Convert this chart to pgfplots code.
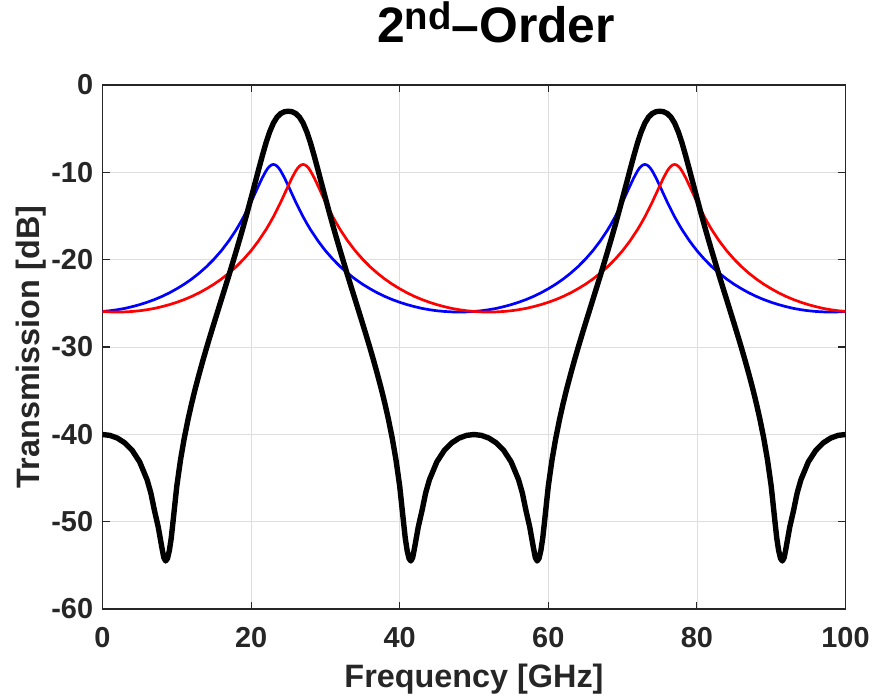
\documentclass[border=0pt]{standalone}
\usepackage{fontspec}
\setmainfont{Liberation Sans}
\usepackage{pgfplots}
\usepackage{pgfplotstable}
\pgfplotsset{compat=1.18}

\definecolor{axisgray}{RGB}{38,38,38}
\definecolor{gridgray}{RGB}{222,222,222}

% Single-resonance responses (peaks at 23/73 GHz and 27/77 GHz)
\pgfplotstableread{
f dB
0 -25.93
1 -25.85
2 -25.73
3 -25.58
4 -25.38
5 -25.15
6 -24.88
7 -24.57
8 -24.21
9 -23.80
10 -23.33
11 -22.81
12 -22.22
13 -21.55
14 -20.80
15 -19.94
16 -18.97
17 -17.85
18 -16.57
18.5 -15.85
19 -15.09
19.5 -14.26
20 -13.39
20.5 -12.47
21 -11.54
21.5 -10.64
22 -9.85
22.25 -9.54
22.5 -9.30
22.75 -9.15
23 -9.10
23.25 -9.15
23.5 -9.30
23.75 -9.54
24 -9.85
24.5 -10.64
25 -11.54
25.5 -12.47
26 -13.39
26.5 -14.26
27 -15.09
27.5 -15.85
28 -16.57
29 -17.85
30 -18.97
31 -19.94
32 -20.80
33 -21.55
34 -22.22
35 -22.81
36 -23.33
37 -23.80
38 -24.21
39 -24.57
40 -24.88
41 -25.15
42 -25.38
43 -25.58
44 -25.73
45 -25.85
46 -25.93
47 -25.98
48 -26.00
49 -25.98
50 -25.93
51 -25.85
52 -25.73
53 -25.58
54 -25.38
55 -25.15
56 -24.88
57 -24.57
58 -24.21
59 -23.80
60 -23.33
61 -22.81
62 -22.22
63 -21.55
64 -20.80
65 -19.94
66 -18.97
67 -17.85
68 -16.57
68.5 -15.85
69 -15.09
69.5 -14.26
70 -13.39
70.5 -12.47
71 -11.54
71.5 -10.64
72 -9.85
72.25 -9.54
72.5 -9.30
72.75 -9.15
73 -9.10
73.25 -9.15
73.5 -9.30
73.75 -9.54
74 -9.85
74.5 -10.64
75 -11.54
75.5 -12.47
76 -13.39
76.5 -14.26
77 -15.09
77.5 -15.85
78 -16.57
79 -17.85
80 -18.97
81 -19.94
82 -20.80
83 -21.55
84 -22.22
85 -22.81
86 -23.33
87 -23.80
88 -24.21
89 -24.57
90 -24.88
91 -25.15
92 -25.38
93 -25.58
94 -25.73
95 -25.85
96 -25.93
97 -25.98
98 -26.00
99 -25.98
100 -25.93
}\blueData

\pgfplotstableread{
f dB
0 -25.93
1 -25.98
2 -26.00
3 -25.98
4 -25.93
5 -25.85
6 -25.73
7 -25.58
8 -25.38
9 -25.15
10 -24.88
11 -24.57
12 -24.21
13 -23.80
14 -23.33
15 -22.81
16 -22.22
17 -21.55
18 -20.80
19 -19.94
20 -18.97
21 -17.85
22 -16.57
22.5 -15.85
23 -15.09
23.5 -14.26
24 -13.39
24.5 -12.47
25 -11.54
25.5 -10.64
26 -9.85
26.25 -9.54
26.5 -9.30
26.75 -9.15
27 -9.10
27.25 -9.15
27.5 -9.30
27.75 -9.54
28 -9.85
28.5 -10.64
29 -11.54
29.5 -12.47
30 -13.39
30.5 -14.26
31 -15.09
31.5 -15.85
32 -16.57
33 -17.85
34 -18.97
35 -19.94
36 -20.80
37 -21.55
38 -22.22
39 -22.81
40 -23.33
41 -23.80
42 -24.21
43 -24.57
44 -24.88
45 -25.15
46 -25.38
47 -25.58
48 -25.73
49 -25.85
50 -25.93
51 -25.98
52 -26.00
53 -25.98
54 -25.93
55 -25.85
56 -25.73
57 -25.58
58 -25.38
59 -25.15
60 -24.88
61 -24.57
62 -24.21
63 -23.80
64 -23.33
65 -22.81
66 -22.22
67 -21.55
68 -20.80
69 -19.94
70 -18.97
71 -17.85
72 -16.57
72.5 -15.85
73 -15.09
73.5 -14.26
74 -13.39
74.5 -12.47
75 -11.54
75.5 -10.64
76 -9.85
76.25 -9.54
76.5 -9.30
76.75 -9.15
77 -9.10
77.25 -9.15
77.5 -9.30
77.75 -9.54
78 -9.85
78.5 -10.64
79 -11.54
79.5 -12.47
80 -13.39
80.5 -14.26
81 -15.09
81.5 -15.85
82 -16.57
83 -17.85
84 -18.97
85 -19.94
86 -20.80
87 -21.55
88 -22.22
89 -22.81
90 -23.33
91 -23.80
92 -24.21
93 -24.57
94 -24.88
95 -25.15
96 -25.38
97 -25.58
98 -25.73
99 -25.85
100 -25.93
}\redData

% Combined second-order response
\pgfplotstableread{
f dB
0 -40.02
1 -40.12
2 -40.43
3 -40.98
4 -41.84
5 -43.15
6 -45.20
6.5 -46.69
7 -48.75
7.5 -50.60
8 -53.00
8.25 -54.10
8.5 -54.50
8.75 -54.20
9 -53.30
9.25 -51.90
9.5 -49.94
10 -45.93
10.5 -42.92
11 -40.46
11.5 -38.34
12 -36.45
12.5 -34.72
13 -33.12
13.5 -31.58
14 -30.11
14.5 -28.69
15 -27.30
15.5 -25.93
16 -24.56
16.5 -23.20
17 -21.83
17.5 -20.42
18 -19.00
18.5 -17.55
19 -16.06
19.5 -14.52
20 -12.94
20.5 -11.34
21 -9.72
21.5 -8.14
22 -6.65
22.5 -5.37
23 -4.36
23.5 -3.67
24 -3.26
24.5 -3.06
25 -3.00
25.5 -3.06
26 -3.26
26.5 -3.67
27 -4.36
27.5 -5.37
28 -6.65
28.5 -8.14
29 -9.72
29.5 -11.34
30 -12.94
30.5 -14.52
31 -16.06
31.5 -17.55
32 -19.00
32.5 -20.42
33 -21.83
33.5 -23.20
34 -24.56
34.5 -25.93
35 -27.30
35.5 -28.69
36 -30.11
36.5 -31.58
37 -33.12
37.5 -34.72
38 -36.45
38.5 -38.34
39 -40.46
39.5 -42.92
40 -45.93
40.5 -49.94
40.75 -51.90
41 -53.30
41.25 -54.20
41.5 -54.50
41.75 -54.10
42 -53.00
42.5 -50.60
43 -48.75
43.5 -46.69
44 -45.20
45 -43.15
46 -41.84
47 -40.98
48 -40.43
49 -40.12
50 -40.02
51 -40.12
52 -40.43
53 -40.98
54 -41.84
55 -43.15
56 -45.20
56.5 -46.69
57 -48.75
57.5 -50.60
58 -53.00
58.25 -54.10
58.5 -54.50
58.75 -54.20
59 -53.30
59.25 -51.90
59.5 -49.94
60 -45.93
60.5 -42.92
61 -40.46
61.5 -38.34
62 -36.45
62.5 -34.72
63 -33.12
63.5 -31.58
64 -30.11
64.5 -28.69
65 -27.30
65.5 -25.93
66 -24.56
66.5 -23.20
67 -21.83
67.5 -20.42
68 -19.00
68.5 -17.55
69 -16.06
69.5 -14.52
70 -12.94
70.5 -11.34
71 -9.72
71.5 -8.14
72 -6.65
72.5 -5.37
73 -4.36
73.5 -3.67
74 -3.26
74.5 -3.06
75 -3.00
75.5 -3.06
76 -3.26
76.5 -3.67
77 -4.36
77.5 -5.37
78 -6.65
78.5 -8.14
79 -9.72
79.5 -11.34
80 -12.94
80.5 -14.52
81 -16.06
81.5 -17.55
82 -19.00
82.5 -20.42
83 -21.83
83.5 -23.20
84 -24.56
84.5 -25.93
85 -27.30
85.5 -28.69
86 -30.11
86.5 -31.58
87 -33.12
87.5 -34.72
88 -36.45
88.5 -38.34
89 -40.46
89.5 -42.92
90 -45.93
90.5 -49.94
90.75 -51.90
91 -53.30
91.25 -54.20
91.5 -54.50
91.75 -54.10
92 -53.00
92.5 -50.60
93 -48.75
93.5 -46.69
94 -45.20
95 -43.15
96 -41.84
97 -40.98
98 -40.43
99 -40.12
100 -40.02
}\blackData

\begin{document}
\begin{tikzpicture}
\useasboundingbox (-102.5bp,-87bp) rectangle (770.5bp,609bp);
\begin{axis}[
  at={(0,0)}, anchor=south west,
  scale only axis,
  width=743bp, height=524bp,
  xmin=0, xmax=100, ymin=-60, ymax=0,
  xtick={0,20,40,60,80,100},
  xticklabels={0,20,40,60,80,100},
  ytick={-60,-50,-40,-30,-20,-10,0},
  yticklabels={-60,-50,-40,-30,-20,-10,0},
  tick align=inside,
  major tick length=7.4bp,
  grid=major,
  major grid style={draw=gridgray, line width=0.8bp},
  axis line style={draw=axisgray, line width=1.1bp},
  every tick/.style={draw=axisgray, line width=1.1bp},
  ticklabel style={font=\fontsize{29}{29}\selectfont\bfseries, text=axisgray},
  xticklabel style={anchor=north, inner sep=0pt, yshift=-18bp},
  yticklabel style={anchor=east, inner sep=0pt, xshift=-9.2bp},
  xlabel={Frequency [GHz]},
  ylabel={Transmission [dB]},
  every axis x label/.style={at={(axis description cs:0.5,0)}, yshift=-78bp,
    anchor=base, inner sep=0pt, text=axisgray,
    font=\fontsize{32.5}{32.5}\selectfont\bfseries},
  every axis y label/.style={at={(axis description cs:0,0.5)}, xshift=-62.5bp,
    rotate=90, anchor=base, inner sep=0pt, text=axisgray,
    font=\fontsize{32.5}{32.5}\selectfont\bfseries},
  title={2\raisebox{0.25em}{\fontsize{38.5}{38.5}\selectfont nd}--Order},
  title style={at={(axis description cs:0.5296,1)}, anchor=base, yshift=36.7bp,
    font=\fontsize{50}{50}\selectfont\bfseries, text=black, inner sep=0pt},
  line join=round,
]
\addplot[draw={rgb,255:red,0;green,0;blue,255}, line width=2.7bp] table[x=f, y=dB] {\blueData};
\addplot[draw={rgb,255:red,255;green,0;blue,0}, line width=2.7bp] table[x=f, y=dB] {\redData};
\addplot[draw=black, line width=5.4bp] table[x=f, y=dB] {\blackData};
\end{axis}
\end{tikzpicture}
\end{document}
